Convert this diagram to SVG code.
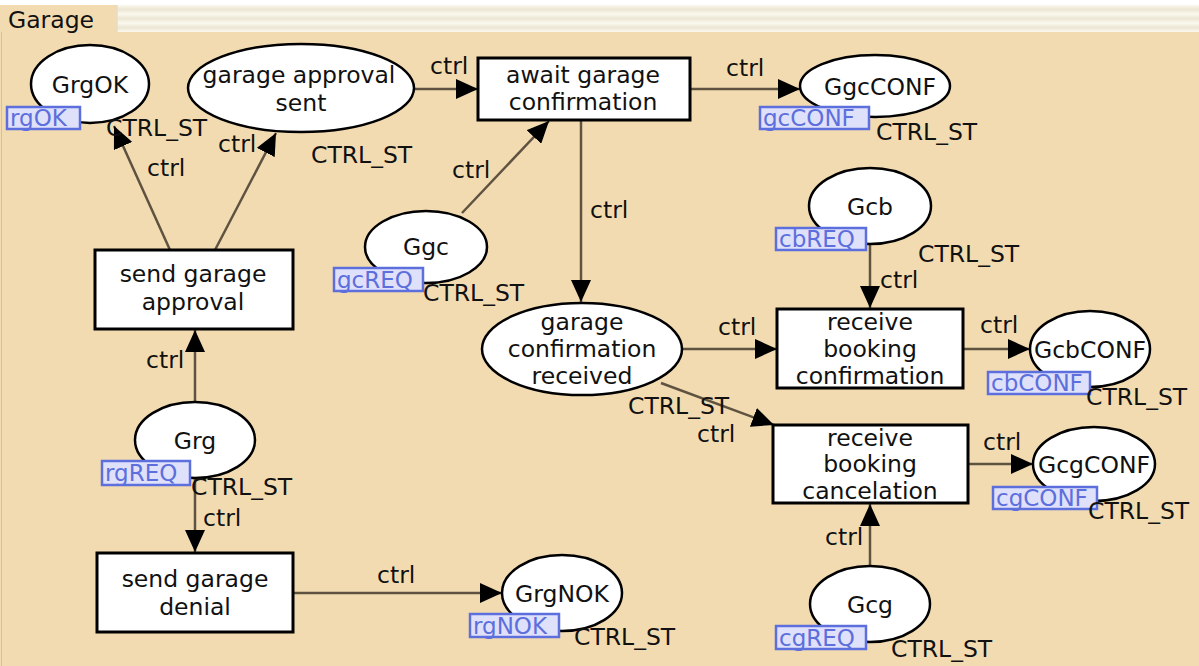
<svg xmlns="http://www.w3.org/2000/svg" width="1199" height="666" viewBox="0 0 1199 666">
  <defs>
    <marker id="arrow" viewBox="0 0 22 20" refX="22" refY="10" markerWidth="22" markerHeight="20" markerUnits="userSpaceOnUse" orient="auto">
      <path d="M0,0 L22,10 L0,20 Z" fill="#000"/>
    </marker>
    <linearGradient id="stripe" x1="0" y1="0" x2="0" y2="1">
      <stop offset="0" stop-color="#fbf8ee"/>
      <stop offset="0.5" stop-color="#ece6d4"/>
      <stop offset="1" stop-color="#fbf8ee"/>
    </linearGradient>
    <pattern id="tabstripes" width="8" height="9" patternUnits="userSpaceOnUse" y="5">
      <rect width="8" height="9" fill="url(#stripe)"/>
    </pattern>
  </defs>
  <style>
    text { font-family: "DejaVu Sans", Verdana, sans-serif; font-size: 23.5px; fill: #111; }
    .c { text-anchor: middle; }
    .place { fill: #fff; stroke: #000; stroke-width: 2.5; }
    .trans { fill: #fff; stroke: #000; stroke-width: 3; }
    .port rect { fill: #dfe1fb; stroke: #5d6fdc; stroke-width: 2.5; }
    .port text { fill: #5d6fdc; font-size: 23px; }
    .arc { stroke: #5e5240; stroke-width: 2.5; fill: none; }
    .arc.a { marker-end: url(#arrow); }
  </style>

  <!-- page background and tab strip -->
  <rect width="1199" height="666" fill="#f3dbb1"/>
  <rect width="1199" height="5" fill="#ffffff"/>
  <rect x="117" y="5" width="1082" height="27" fill="url(#tabstripes)"/>
  <rect x="0" y="5" width="117" height="27" fill="#f3dbb1"/>
  <line x1="117" y1="5" x2="117" y2="32" stroke="#e6dcc4" stroke-width="1.5"/>
  <line x1="1.5" y1="32" x2="1.5" y2="666" stroke="#d9c197" stroke-width="1"/>
  <text x="8" y="28">Garage</text>

  <!-- connectors -->
  <g id="connectors">
    <line class="arc a" x1="170" y1="250" x2="114" y2="126"/>
    <line class="arc a" x1="215" y1="250" x2="276" y2="133"/>
    <line class="arc a" x1="414" y1="89" x2="478" y2="89"/>
    <line class="arc a" x1="690" y1="89" x2="800" y2="89"/>
    <line class="arc a" x1="462" y1="213" x2="549" y2="121"/>
    <line class="arc a" x1="581" y1="121" x2="581" y2="302"/>
    <line class="arc a" x1="195" y1="402" x2="195" y2="330"/>
    <line class="arc a" x1="195" y1="478" x2="195" y2="552"/>
    <line class="arc a" x1="293" y1="593" x2="502" y2="593"/>
    <line class="arc a" x1="870" y1="245" x2="870" y2="308"/>
    <line class="arc a" x1="682" y1="349" x2="777" y2="349"/>
    <line class="arc a" x1="964" y1="349" x2="1030" y2="349"/>
    <line class="arc a" x1="661" y1="383" x2="774" y2="425"/>
    <line class="arc a" x1="968" y1="464" x2="1033" y2="464"/>
    <line class="arc a" x1="870" y1="566" x2="870" y2="504"/>
    <text x="430" y="74">ctrl</text>
    <text x="726" y="76">ctrl</text>
    <text x="147" y="176">ctrl</text>
    <text x="218" y="152">ctrl</text>
    <text x="452" y="178">ctrl</text>
    <text x="590" y="218">ctrl</text>
    <text x="146" y="368">ctrl</text>
    <text x="203" y="526">ctrl</text>
    <text x="377" y="583">ctrl</text>
    <text x="880" y="288">ctrl</text>
    <text x="718" y="335">ctrl</text>
    <text x="980" y="333">ctrl</text>
    <text x="697" y="442">ctrl</text>
    <text x="983" y="450">ctrl</text>
    <text x="825" y="545">ctrl</text>
  </g>

  <!-- places -->
  <g id="GrgOK">
    <ellipse class="place" cx="90" cy="84" rx="59" ry="39"/>
    <text class="c" x="90" y="93">GrgOK</text>
    <g class="port"><rect x="7" y="107" width="73" height="22"/><text x="10" y="126">rgOK</text></g>
    <text x="106" y="136">CTRL_ST</text>
  </g>
  <g id="garage_approval_sent">
    <ellipse class="place" cx="301" cy="88" rx="113" ry="44"/>
    <text class="c" x="299" y="83">garage approval</text>
    <text class="c" x="301" y="111">sent</text>
    <text x="311" y="163">CTRL_ST</text>
  </g>
  <g id="GgcCONF">
    <ellipse class="place" cx="875" cy="86" rx="75" ry="31"/>
    <text class="c" x="880" y="95">GgcCONF</text>
    <g class="port"><rect x="760" y="107" width="109" height="22"/><text x="763" y="126">gcCONF</text></g>
    <text x="876" y="140">CTRL_ST</text>
  </g>
  <g id="Ggc">
    <ellipse class="place" cx="426" cy="247" rx="61" ry="36"/>
    <text class="c" x="426" y="255">Ggc</text>
    <g class="port"><rect x="334" y="268" width="89" height="23"/><text x="337" y="288">gcREQ</text></g>
    <text x="423" y="301">CTRL_ST</text>
  </g>
  <g id="Gcb">
    <ellipse class="place" cx="870" cy="206" rx="61" ry="38"/>
    <text class="c" x="870" y="215">Gcb</text>
    <g class="port"><rect x="776" y="228" width="90" height="22"/><text x="779" y="247">cbREQ</text></g>
    <text x="918" y="262">CTRL_ST</text>
  </g>
  <g id="garage_confirmation_received">
    <ellipse class="place" cx="582" cy="349" rx="100" ry="46"/>
    <text class="c" x="582" y="330">garage</text>
    <text class="c" x="582" y="357">confirmation</text>
    <text class="c" x="582" y="384">received</text>
    <text x="628" y="414">CTRL_ST</text>
  </g>
  <g id="GcbCONF">
    <ellipse class="place" cx="1090" cy="349" rx="60" ry="38"/>
    <text class="c" x="1090" y="358">GcbCONF</text>
    <g class="port"><rect x="988" y="372" width="102" height="22"/><text x="991" y="391">cbCONF</text></g>
    <text x="1086" y="405">CTRL_ST</text>
  </g>
  <g id="GcgCONF">
    <ellipse class="place" cx="1094" cy="464" rx="61" ry="37"/>
    <text class="c" x="1094" y="473">GcgCONF</text>
    <g class="port"><rect x="993" y="487" width="104" height="22"/><text x="996" y="506">cgCONF</text></g>
    <text x="1088" y="519">CTRL_ST</text>
  </g>
  <g id="Grg">
    <ellipse class="place" cx="195" cy="440" rx="60" ry="38"/>
    <text class="c" x="195" y="449">Grg</text>
    <g class="port"><rect x="102" y="461" width="88" height="24"/><text x="105" y="481">rgREQ</text></g>
    <text x="191" y="495">CTRL_ST</text>
  </g>
  <g id="GrgNOK">
    <ellipse class="place" cx="562" cy="593" rx="60" ry="38"/>
    <text class="c" x="562" y="602">GrgNOK</text>
    <g class="port"><rect x="470" y="614" width="89" height="23"/><text x="473" y="634">rgNOK</text></g>
    <text x="574" y="645">CTRL_ST</text>
  </g>
  <g id="Gcg">
    <ellipse class="place" cx="870" cy="604" rx="60" ry="38"/>
    <text class="c" x="870" y="613">Gcg</text>
    <g class="port"><rect x="776" y="626" width="90" height="23"/><text x="779" y="646">cgREQ</text></g>
    <text x="891" y="657">CTRL_ST</text>
  </g>

  <!-- transitions -->
  <g id="await_garage_confirmation">
    <rect class="trans" x="478" y="58" width="212" height="62"/>
    <text class="c" x="583" y="83">await garage</text>
    <text class="c" x="583" y="110">confirmation</text>
  </g>
  <g id="send_garage_approval">
    <rect class="trans" x="95" y="250" width="198" height="79"/>
    <text class="c" x="193" y="282">send garage</text>
    <text class="c" x="193" y="310">approval</text>
  </g>
  <g id="receive_booking_confirmation">
    <rect class="trans" x="777" y="309" width="186" height="79"/>
    <text class="c" x="870" y="330">receive</text>
    <text class="c" x="870" y="357">booking</text>
    <text class="c" x="870" y="384">confirmation</text>
  </g>
  <g id="receive_booking_cancelation">
    <rect class="trans" x="773" y="425" width="195" height="78"/>
    <text class="c" x="870" y="446">receive</text>
    <text class="c" x="870" y="472">booking</text>
    <text class="c" x="870" y="499">cancelation</text>
  </g>
  <g id="send_garage_denial">
    <rect class="trans" x="97" y="553" width="196" height="79"/>
    <text class="c" x="195" y="587">send garage</text>
    <text class="c" x="195" y="615">denial</text>
  </g>
</svg>
